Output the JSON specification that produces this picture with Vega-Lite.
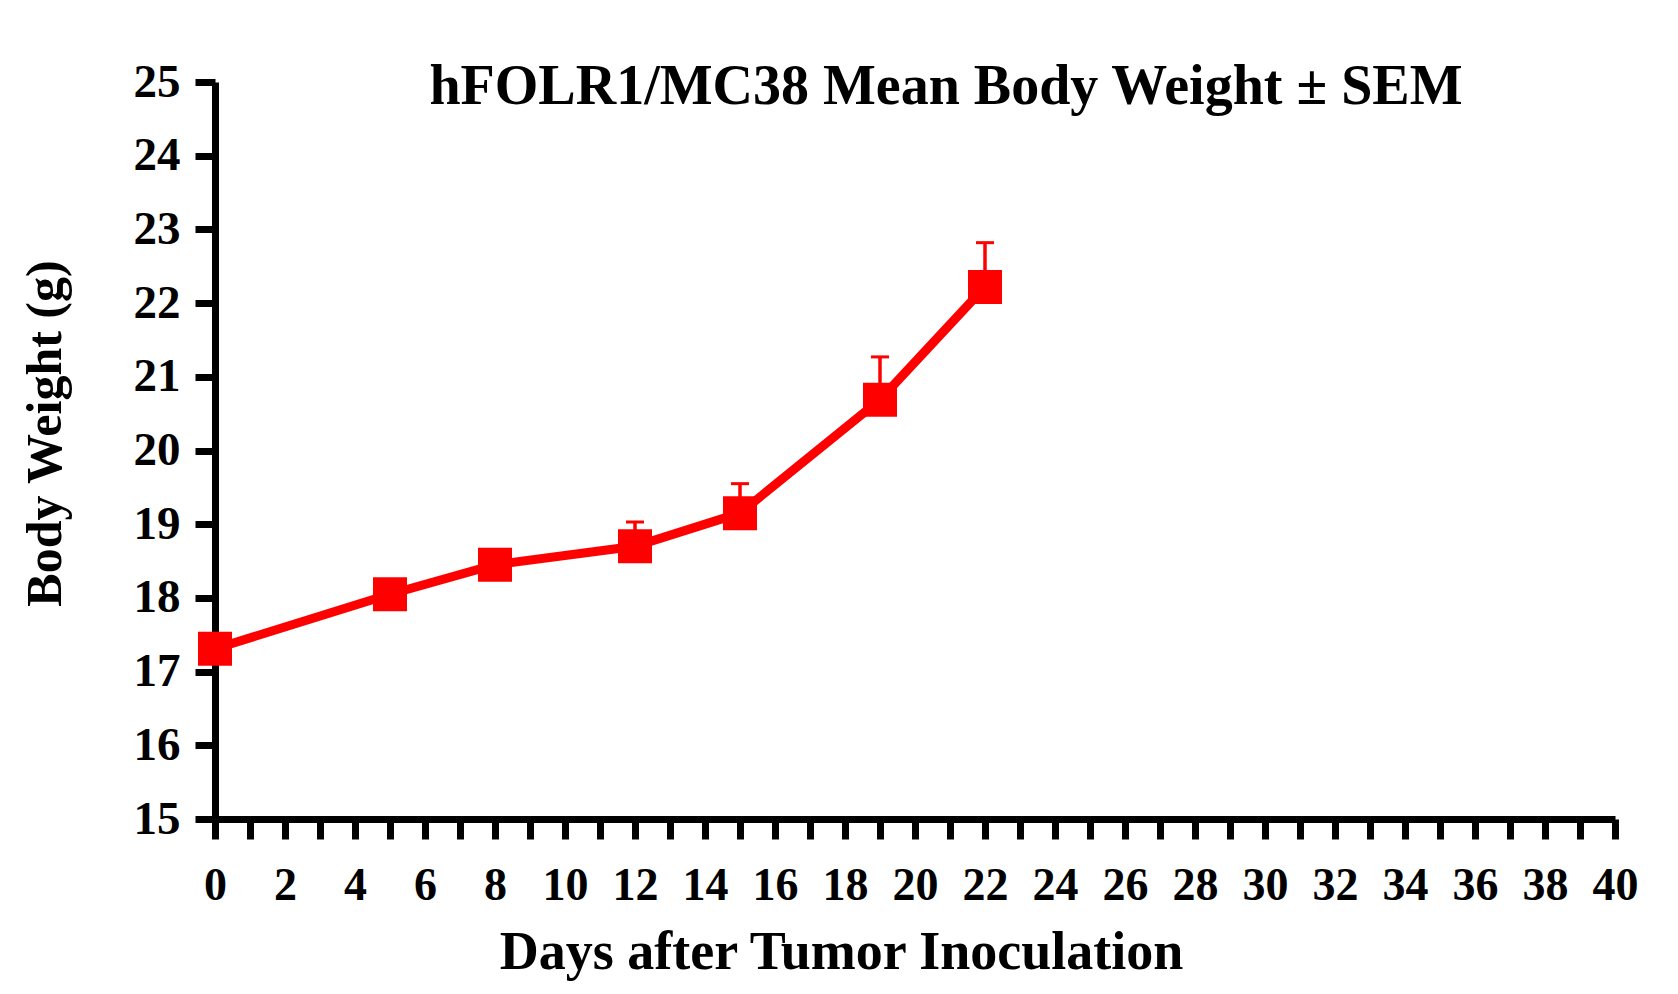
{
  "$schema": "https://vega.github.io/schema/vega-lite/v6.json",
  "description": "hFOLR1/MC38 mean body weight with SEM over days after tumor inoculation.",
  "width": 1400,
  "height": 737,
  "autosize": "none",
  "padding": {"left": 215, "top": 82, "right": 63, "bottom": 175},
  "background": "white",
  "title": {
    "text": "hFOLR1/MC38 Mean Body Weight ± SEM",
    "font": "Liberation Serif",
    "fontSize": 56,
    "fontWeight": "bold",
    "color": "black",
    "anchor": "middle",
    "frame": "group",
    "baseline": "alphabetic",
    "dx": 31,
    "dy": 106
  },
  "data": {
    "values": [
      {"day": 0, "mean": 17.31, "upper": 17.42},
      {"day": 5, "mean": 18.05, "upper": 18.18},
      {"day": 8, "mean": 18.45, "upper": 18.58},
      {"day": 12, "mean": 18.7, "upper": 19.03},
      {"day": 15, "mean": 19.15, "upper": 19.55},
      {"day": 19, "mean": 20.69, "upper": 21.27},
      {"day": 22, "mean": 22.22, "upper": 22.82}
    ]
  },
  "encoding": {
    "x": {
      "field": "day",
      "type": "quantitative",
      "scale": {"domain": [0, 40], "nice": false, "zero": false},
      "axis": {
        "title": "Days after Tumor Inoculation",
        "values": [0, 1, 2, 3, 4, 5, 6, 7, 8, 9, 10, 11, 12, 13, 14, 15, 16, 17, 18, 19, 20, 21, 22, 23, 24, 25, 26, 27, 28, 29, 30, 31, 32, 33, 34, 35, 36, 37, 38, 39, 40],
        "labelExpr": "datum.value % 2 === 0 ? datum.label : ''",
        "grid": false,
        "domainColor": "black",
        "domainWidth": 7,
        "tickColor": "black",
        "tickWidth": 7,
        "tickSize": 20,
        "labelFont": "Liberation Serif",
        "labelFontSize": 46,
        "labelFontWeight": "bold",
        "labelColor": "black",
        "labelPadding": 24,
        "labelFlush": false,
        "labelOverlap": false,
        "titleFont": "Liberation Serif",
        "titleFontSize": 54,
        "titleFontWeight": "bold",
        "titleColor": "black",
        "titleX": 626,
        "titleY": 149,
        "titleAlign": "center",
        "titleBaseline": "alphabetic",
        "encode": {
          "ticks": {
            "update": {"y2": {"signal": "datum.value % 2 === 0 ? 20 : 13"}}
          }
        }
      }
    }
  },
  "layer": [
    {
      "mark": {"type": "line", "color": "#FF0000", "strokeWidth": 9},
      "encoding": {
        "y": {
          "field": "mean",
          "type": "quantitative",
          "scale": {"domain": [15, 25], "nice": false, "zero": false},
          "axis": {
            "title": "Body Weight (g)",
            "values": [15, 16, 17, 18, 19, 20, 21, 22, 23, 24, 25],
            "format": "d",
            "grid": false,
            "domainColor": "black",
            "domainWidth": 7,
            "tickColor": "black",
            "tickWidth": 7,
            "tickSize": 20,
            "labelFont": "Liberation Serif",
            "labelFontSize": 47,
            "labelFontWeight": "bold",
            "labelColor": "black",
            "labelPadding": 15,
            "labelFlush": false,
            "labelOverlap": false,
            "titleFont": "Liberation Serif",
            "titleFontSize": 50,
            "titleFontWeight": "bold",
            "titleColor": "black",
            "titleAngle": 270,
            "titleX": -155,
            "titleY": 351,
            "titleAlign": "center",
            "titleBaseline": "alphabetic"
          }
        }
      }
    },
    {
      "mark": {"type": "rule", "color": "#FF0000", "strokeWidth": 3.5},
      "encoding": {
        "y": {"field": "mean", "type": "quantitative"},
        "y2": {"field": "upper"}
      }
    },
    {
      "mark": {"type": "tick", "color": "#FF0000", "orient": "horizontal", "size": 18, "thickness": 3, "opacity": 1},
      "encoding": {
        "y": {"field": "upper", "type": "quantitative"}
      }
    },
    {
      "mark": {"type": "square", "color": "#FF0000", "filled": true, "opacity": 1, "size": 1156},
      "encoding": {
        "y": {"field": "mean", "type": "quantitative"}
      }
    }
  ],
  "config": {
    "view": {"stroke": null}
  }
}
